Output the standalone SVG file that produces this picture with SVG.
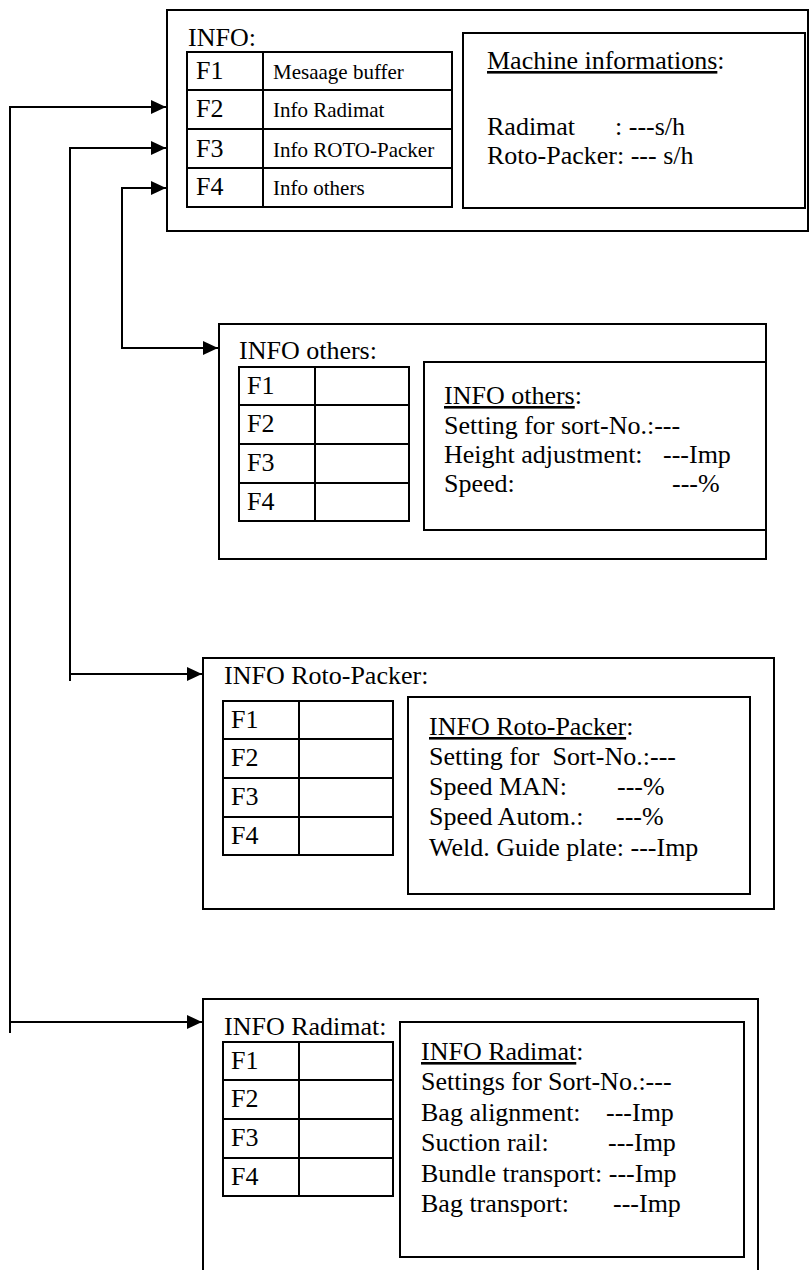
<svg xmlns="http://www.w3.org/2000/svg" width="810" height="1270" viewBox="0 0 810 1270">
<defs>
<marker id="ah" markerUnits="userSpaceOnUse" viewBox="0 0 15 14" refX="15" refY="7" markerWidth="15" markerHeight="14" orient="auto">
<path d="M0,0 L15,7 L0,14 z" fill="#000"/>
</marker>
<style>
.box{fill:#fff;stroke:#000;stroke-width:2}
.ln{fill:none;stroke:#000;stroke-width:2}
.t{font-family:"Liberation Serif","Times New Roman",serif;font-size:26px;fill:#000}
.s{font-family:"Liberation Serif","Times New Roman",serif;font-size:21px;fill:#000}
.u{text-decoration:underline}
</style>
</defs>
<rect width="810" height="1270" fill="#fff"/>

<g id="connectors">
<path class="ln" d="M10,1033 V107 H166" marker-end="url(#ah)"/>
<path class="ln" d="M10,1022 H202" marker-end="url(#ah)"/>
<path class="ln" d="M70,681 V148 H166" marker-end="url(#ah)"/>
<path class="ln" d="M70,674 H202" marker-end="url(#ah)"/>
<path class="ln" d="M122,349 V188 H166" marker-end="url(#ah)"/>
<path class="ln" d="M122,348 H218" marker-end="url(#ah)"/>
</g>

<g id="info-main">
<rect class="box" x="167" y="10" width="641" height="221"/>
<text class="t" x="188" y="46">INFO:</text>
<rect class="box" x="187" y="52" width="265" height="155"/>
<path class="ln" d="M263,52 V207 M187,90 H452 M187,129 H452 M187,168 H452"/>
<text class="t" x="196" y="79">F1</text>
<text class="t" x="196" y="117">F2</text>
<text class="t" x="196" y="157">F3</text>
<text class="t" x="196" y="195">F4</text>
<text class="s" x="273" y="79">Mesaage buffer</text>
<text class="s" x="273" y="117">Info Radimat</text>
<text class="s" x="273" y="157">Info ROTO-Packer</text>
<text class="s" x="273" y="195">Info others</text>
<rect class="box" x="463" y="33" width="342" height="175"/>
<text class="t" x="487" y="69"><tspan class="u">Machine informations</tspan>:</text>
<text class="t" x="487" y="135">Radimat<tspan x="615">: ---s/h</tspan></text>
<text class="t" x="487" y="164">Roto-Packer: --- s/h</text>
</g>

<g id="info-others">
<rect class="box" x="219" y="324" width="547" height="235"/>
<text class="t" x="239" y="359">INFO others:</text>
<rect class="box" x="239" y="367" width="170" height="154"/>
<path class="ln" d="M315,367 V521 M239,405 H409 M239,444 H409 M239,483 H409"/>
<text class="t" x="247" y="394">F1</text>
<text class="t" x="247" y="432">F2</text>
<text class="t" x="247" y="471">F3</text>
<text class="t" x="247" y="510">F4</text>
<rect class="box" x="424" y="362" width="342" height="168"/>
<text class="t" x="444" y="404"><tspan class="u">INFO others</tspan>:</text>
<text class="t" x="444" y="434">Setting for sort-No.:---</text>
<text class="t" x="444" y="463">Height adjustment:<tspan x="663">---Imp</tspan></text>
<text class="t" x="444" y="492">Speed:<tspan x="672">---%</tspan></text>
</g>

<g id="info-roto-packer">
<rect class="box" x="203" y="658" width="571" height="251"/>
<text class="t" x="224" y="684">INFO Roto-Packer:</text>
<rect class="box" x="223" y="701" width="170" height="154"/>
<path class="ln" d="M299,701 V855 M223,739 H393 M223,778 H393 M223,817 H393"/>
<text class="t" x="231" y="728">F1</text>
<text class="t" x="231" y="766">F2</text>
<text class="t" x="231" y="805">F3</text>
<text class="t" x="231" y="844">F4</text>
<rect class="box" x="408" y="697" width="342" height="197"/>
<text class="t" x="429" y="735"><tspan class="u">INFO Roto-Packer</tspan>:</text>
<text class="t" x="429" y="765" xml:space="preserve">Setting for  Sort-No.:---</text>
<text class="t" x="429" y="795">Speed MAN:<tspan x="617">---%</tspan></text>
<text class="t" x="429" y="825">Speed Autom.:<tspan x="616">---%</tspan></text>
<text class="t" x="429" y="856">Weld. Guide plate: ---Imp</text>
</g>

<g id="info-radimat">
<rect class="box" x="203" y="999" width="555" height="290"/>
<text class="t" x="224" y="1035">INFO Radimat:</text>
<rect class="box" x="223" y="1042" width="170" height="154"/>
<path class="ln" d="M299,1042 V1196 M223,1080 H393 M223,1119 H393 M223,1158 H393"/>
<text class="t" x="231" y="1069">F1</text>
<text class="t" x="231" y="1107">F2</text>
<text class="t" x="231" y="1146">F3</text>
<text class="t" x="231" y="1185">F4</text>
<rect class="box" x="400" y="1022" width="344" height="235"/>
<text class="t" x="421" y="1060"><tspan class="u">INFO Radimat</tspan>:</text>
<text class="t" x="421" y="1090">Settings for Sort-No.:---</text>
<text class="t" x="421" y="1121">Bag alignment:<tspan x="606">---Imp</tspan></text>
<text class="t" x="421" y="1151">Suction rail:<tspan x="608">---Imp</tspan></text>
<text class="t" x="421" y="1182">Bundle transport: ---Imp</text>
<text class="t" x="421" y="1212">Bag transport:<tspan x="613">---Imp</tspan></text>
</g>
</svg>
